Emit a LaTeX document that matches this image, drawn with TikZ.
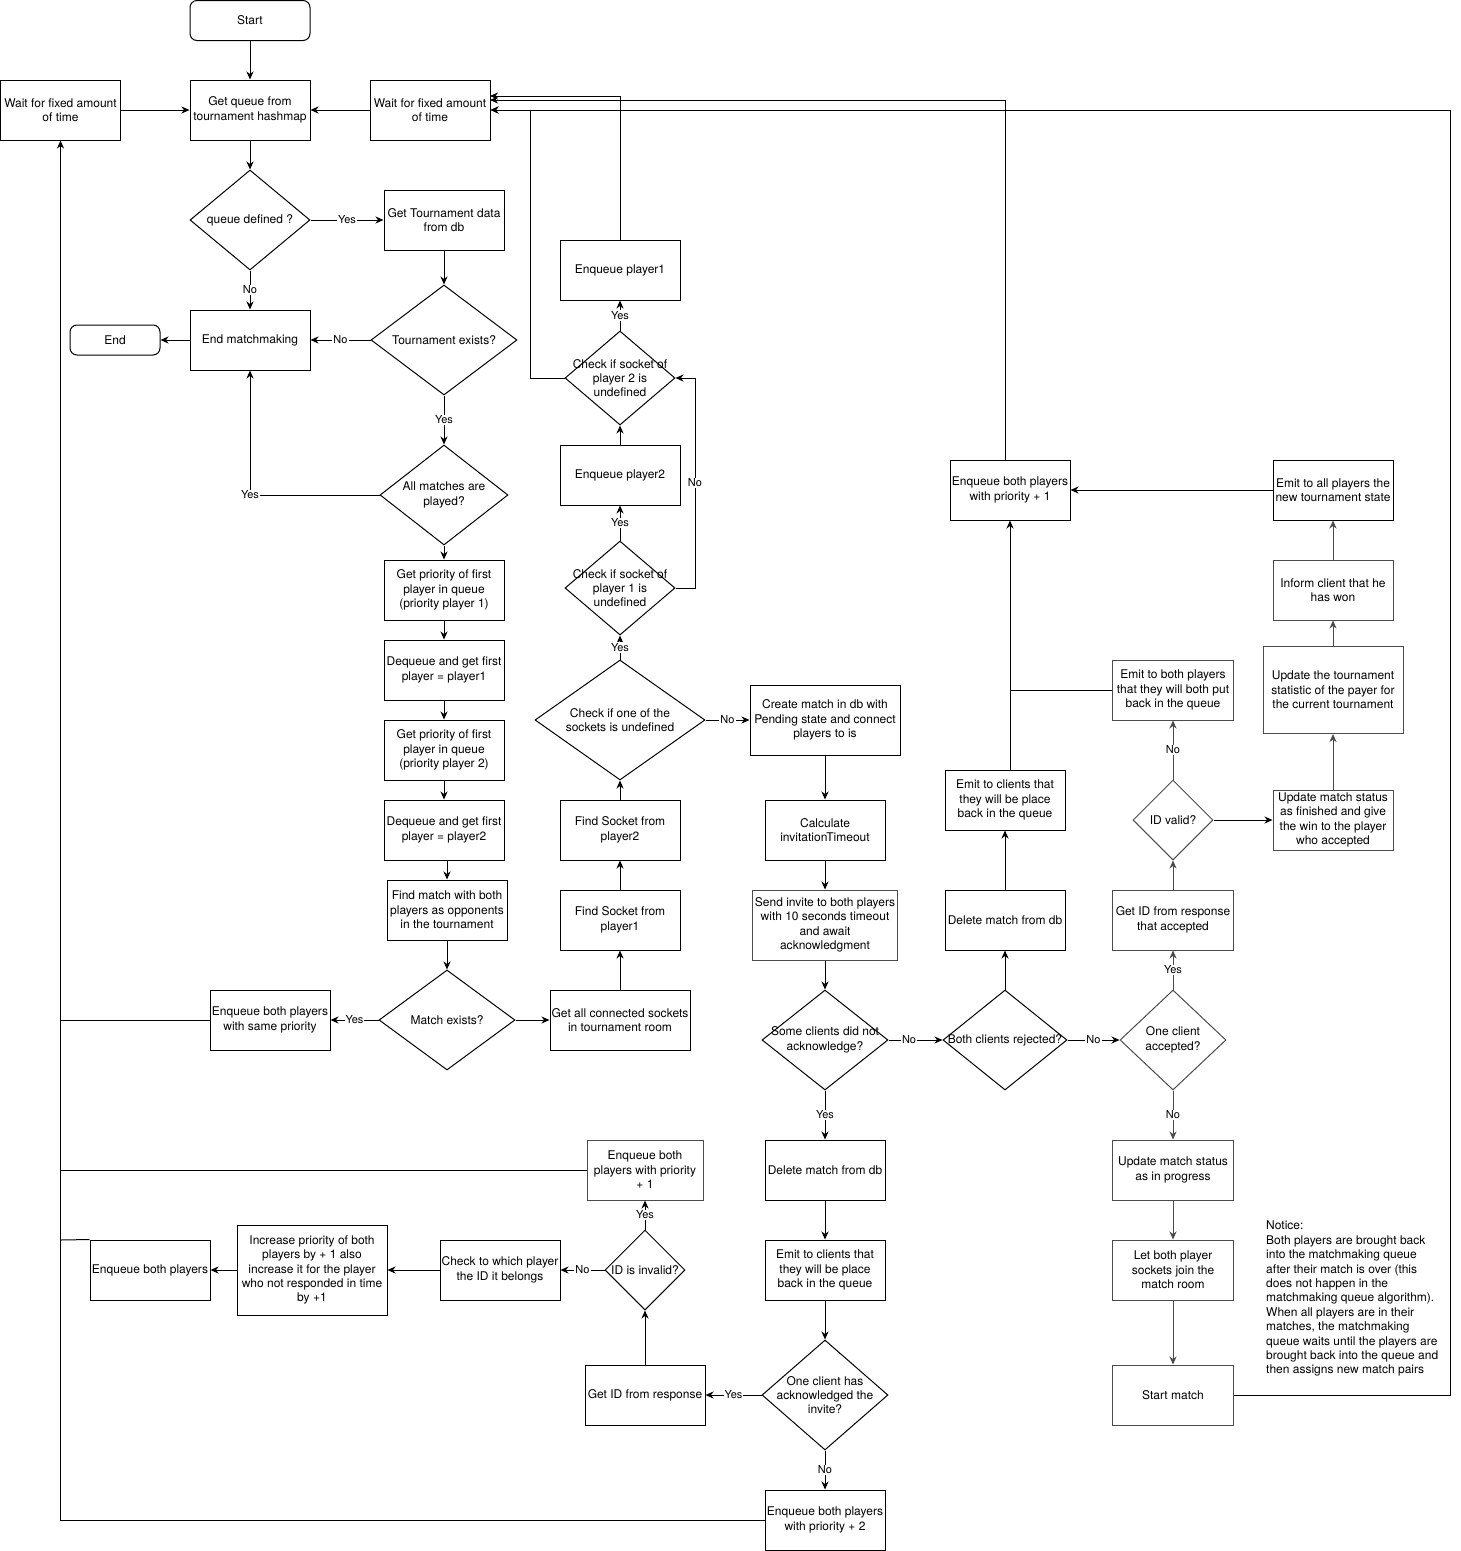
\documentclass[tikz,border=0pt]{standalone}
\usepackage{fontspec}
\setmainfont{TeX Gyre Heros}
\usetikzlibrary{shapes.geometric,arrows.meta}
\newcommand\myfs{\fontsize{12}{14.4}\selectfont}
\newcommand\mylfs{\fontsize{11}{12}\selectfont}
\definecolor{dgray}{RGB}{75,75,75}
\tikzset{
  box/.style={draw, rectangle, align=center, inner sep=1pt, font=\myfs, line width=1pt},
  rbox/.style={box, rounded corners=7pt},
  dia/.style={draw, diamond, inner sep=0pt, line width=1pt},
  dl/.style={align=center, font=\myfs, inner sep=0pt},
  sz/.style 2 args={minimum width=#1pt, minimum height=#2pt},
  arr/.style={-{Stealth[length=8pt,width=7pt,inset=2.5pt]}, line width=1pt},
  ln/.style={line width=1pt},
  lbl/.style={fill=white, font=\mylfs, inner sep=1pt},
  gr/.style={draw=dgray},
}
\begin{document}
\begin{tikzpicture}[x=1pt,y=-1pt]
\useasboundingbox (0,0) rectangle (1460,1551);

% ---- column A
\node[rbox, sz={120}{40}] (start) at (250,20.5) {Start};
\node[box, sz={120}{60}] (getq) at (250,110) {Get queue from\\tournament hashmap};
\node[box, sz={120}{60}] (waitL) at (60.5,110) {Wait for fixed amount\\of time};
\node[box, sz={120}{60}] (waitR) at (430,110) {Wait for fixed amount\\of time};
\node[dia, sz={120}{100}, label={[dl]center:{queue defined ?}}] (qdef) at (250,220) {};
\node[box, sz={120}{60}] (gettd) at (444,220) {Get Tournament data\\from db};
\node[box, sz={120}{60}] (endmm) at (250,340) {End matchmaking};
\node[rbox, sz={90}{30}] (endn) at (115,340) {End};
\node[dia, sz={146}{110}, label={[dl]center:{Tournament exists?}}] (texist) at (444,340) {};
\node[dia, sz={128}{100}, label={[dl]center:{All matches are\\played?}}] (allm) at (444,495) {};
\node[box, sz={120}{60}] (gp1) at (444,590) {Get priority of first\\player in queue\\(priority player 1)};
\node[box, sz={120}{60}] (dq1) at (444,670) {Dequeue and get first\\player = player1};
\node[box, sz={120}{60}] (gp2) at (444,750) {Get priority of first\\player in queue\\(priority player 2)};
\node[box, sz={120}{60}] (dq2) at (444,830) {Dequeue and get first\\player = player2};
\node[box, sz={120}{60}] (fm) at (447,910) {Find match with both\\players as opponents\\in the tournament};
\node[dia, sz={136}{100}, label={[dl]center:{Match exists?}}] (mex) at (447,1020) {};
\node[box, sz={120}{60}] (enqsame) at (270,1020) {Enqueue both players\\with same priority};

% ---- socket column
\node[box, sz={140}{60}] (getall) at (620,1020) {Get all connected sockets\\in tournament room};
\node[box, sz={120}{60}] (fs1) at (620,920) {Find Socket from\\player1};
\node[box, sz={120}{60}] (fs2) at (620,830) {Find Socket from\\player2};
\node[dia, sz={170}{120}, label={[dl]center:{Check if one of the\\sockets is undefined}}] (chk1) at (620,720) {};
\node[dia, sz={110}{94}, label={[dl]center:{Check if socket of\\player 1 is\\undefined}}] (chkp1) at (620,588) {};
\node[box, sz={120}{60}] (enqp2) at (620,475) {Enqueue player2};
\node[dia, sz={110}{94}, label={[dl]center:{Check if socket of\\player 2 is\\undefined}}] (chkp2) at (620,378) {};
\node[box, sz={120}{60}] (enqp1) at (620,270) {Enqueue player1};

% ---- invite column
\node[box, sz={150}{70}] (create) at (825,720) {Create match in db with\\Pending state and connect\\players to is};
\node[box, sz={120}{60}] (calc) at (825,830) {Calculate\\invitationTimeout};
\node[box, gr, sz={145}{70}] (send) at (825,925) {Send invite to both players\\with 10 seconds timeout\\and await\\acknowledgment};
\node[dia, sz={126}{100}, label={[dl]center:{Some clients did not\\acknowledge?}}] (some) at (825,1040) {};
\node[box, sz={120}{60}] (del1) at (825,1170) {Delete match from db};
\node[box, sz={120}{60}] (emit1) at (825,1270) {Emit to clients that\\they will be place\\back in the queue};
\node[dia, sz={126}{110}, label={[dl]center:{One client has\\acknowledged the\\invite?}}] (onehas) at (825,1395) {};
\node[box, sz={120}{60}] (enq2) at (825,1520) {Enqueue both players\\with priority + 2};
\node[box, sz={120}{60}] (getid) at (645,1395) {Get ID from response};
\node[dia, sz={80}{80}, label={[dl]center:{ID is invalid?}}] (idinv) at (645,1270) {};
\node[box, gr, sz={116}{60}] (enq1low) at (645,1170) {Enqueue both\\players with priority\\+ 1};
\node[box, sz={120}{60}] (chkwhich) at (500,1270) {Check to which player\\the ID it belongs};
\node[box, sz={150}{90}] (incr) at (312,1270) {Increase priority of both\\players by + 1 also\\increase it for the player\\who not responded in time\\by +1};
\node[box, sz={120}{60}] (enqboth) at (150,1270) {Enqueue both players};

% ---- right part
\node[dia, sz={124}{100}, label={[dl]center:{Both clients rejected?}}] (bothrej) at (1005,1040) {};
\node[dia, gr, sz={106}{100}, label={[dl]center:{One client\\accepted?}}] (oneacc) at (1173,1040) {};
\node[box, sz={120}{60}] (del2) at (1005,920) {Delete match from db};
\node[box, sz={120}{60}] (emit2) at (1005,800) {Emit to clients that\\they will be place\\back in the queue};
\node[box, sz={120}{60}] (enq1up) at (1010,490) {Enqueue both players\\with priority + 1};
\node[box, gr, sz={121}{60}] (emitboth) at (1173,690) {Emit to both players\\that they will both put\\back in the queue};
\node[box, gr, sz={121}{60}] (getidacc) at (1173,920) {Get ID from response\\that accepted};
\node[dia, gr, sz={80}{80}, label={[dl]center:{ID valid?}}] (idval) at (1173,820) {};
\node[box, gr, sz={120}{60}] (updfin) at (1333,820) {Update match status\\as finished and give\\the win to the player\\who accepted};
\node[box, gr, sz={140}{87}] (updstat) at (1333,690) {Update the tournament\\statistic of the payer for\\the current tournament};
\node[box, gr, sz={120}{60}] (inform) at (1333,590) {Inform client that he\\has won};
\node[box, sz={120}{60}] (emitall) at (1333,490) {Emit to all players the\\new tournament state};
\node[box, gr, sz={121}{60}] (updprog) at (1173,1170) {Update match status\\as in progress};
\node[box, gr, sz={121}{60}] (letboth) at (1173,1270) {Let both player\\sockets join the\\match room};
\node[box, gr, sz={121}{60}] (startm) at (1173,1395) {Start match};

\node[anchor=north west, align=left, font=\myfs, inner sep=0pt] (notice) at (1266,1221)
 {Notice:\\Both players are brought back\\into the matchmaking queue\\after their match is over (this\\does not happen in the\\matchmaking queue algorithm).\\When all players are in their\\matches, the matchmaking\\queue waits until the players are\\brought back into the queue and\\then assigns new match pairs};

% ---- junction coordinates
\coordinate (j1) at (60.5,1020);
\coordinate (j2) at (60.5,1170);
\coordinate (j3) at (60.5,1240);
\coordinate (j4) at (60.5,1520);
\coordinate (c1) at (695,588);
\coordinate (c2) at (530,110);
\coordinate (c3) at (490,96);
\coordinate (c5) at (490,100);
\coordinate (c6) at (1450,110);

% ---- edges
\draw[arr] (start) -- (getq);
\draw[arr] (waitL) -- (getq);
\draw[arr] (waitR) -- (getq);
\draw[arr] (getq) -- (qdef);
\draw[arr] (qdef) -- node[lbl]{Yes} (gettd);
\draw[arr] (qdef) -- node[lbl]{No} (endmm);
\draw[arr] (gettd) -- (texist);
\draw[arr] (texist) -- node[lbl]{No} (endmm);
\draw[arr] (endmm) -- (endn);
\draw[arr] (texist) -- node[lbl]{Yes} (allm);
\draw[arr] (allm.west) -| node[lbl, pos=0.5]{Yes} (endmm.south);
\draw[arr] (allm) -- (gp1);
\draw[arr] (gp1) -- (dq1);
\draw[arr] (dq1) -- (gp2);
\draw[arr] (gp2) -- (dq2);
\draw[arr] (dq2.south -| fm.north) -- (fm.north);
\draw[arr] (fm) -- (mex);
\draw[arr] (mex) -- node[lbl]{Yes} (enqsame);
\draw[ln] (enqsame.west) -- (j1);
\draw[arr] (mex) -- (getall);
\draw[arr] (getall) -- (fs1);
\draw[arr] (fs1) -- (fs2);
\draw[arr] (fs2) -- (chk1);
\draw[arr] (chk1) -- node[lbl]{Yes} (chkp1);
\draw[arr] (chk1) -- node[lbl]{No} (create);
\draw[arr] (chkp1) -- node[lbl]{Yes} (enqp2);
\draw[arr] (chkp1.east) -- (c1) |- node[lbl, pos=0.25]{No} (chkp2.east);
\draw[arr] (enqp2) -- (chkp2);
\draw[arr] (chkp2) -- node[lbl]{Yes} (enqp1);
\draw[arr] (chkp2.west) -| (c2) -- (waitR.east);
\draw[arr] (enqp1.north) |- (c3);
\draw[arr] (create) -- (calc);
\draw[arr] (calc) -- (send);
\draw[arr] (send) -- (some);
\draw[arr] (some) -- node[lbl]{Yes} (del1);
\draw[arr] (some) -- node[lbl, pos=0.38]{No} (bothrej);
\draw[arr] (del1) -- (emit1);
\draw[arr] (emit1) -- (onehas);
\draw[arr] (onehas) -- node[lbl]{Yes} (getid);
\draw[arr] (onehas) -- node[lbl]{No} (enq2);
\draw[arr] (enq2.west) -- (j4) -- (waitL.south);
\draw[arr] (getid) -- (idinv);
\draw[arr] (idinv) -- node[lbl]{Yes} (enq1low);
\draw[arr] (idinv) -- node[lbl]{No} (chkwhich);
\draw[arr] (chkwhich) -- (incr);
\draw[arr] (incr) -- (enqboth);
\draw[ln] (enqboth.north west) -- (j3);
\draw[ln] (enq1low.west) -- (j2);
\draw[arr] (bothrej) -- (del2);
\draw[arr] (del2) -- (emit2);
\draw[arr] (emit2.north -| enq1up.south) -- (enq1up.south);
\draw[ln] (emitboth.west) -- (emitboth.west -| enq1up.south);
\draw[arr] (enq1up.north -| emit2.north) |- (c5);
\draw[arr] (bothrej) -- node[lbl]{No} (oneacc);
\draw[arr, dgray] (oneacc) -- node[lbl, text=black]{Yes} (getidacc);
\draw[arr, dgray] (oneacc) -- node[lbl, text=black]{No} (updprog);
\draw[arr, dgray] (getidacc) -- (idval);
\draw[arr, dgray] (idval) -- node[lbl, text=black]{No} (emitboth);
\draw[arr] (idval) -- (updfin);
\draw[arr, dgray] (updfin) -- (updstat);
\draw[arr, dgray] (updstat) -- (inform);
\draw[arr, dgray] (inform) -- (emitall);
\draw[arr] (emitall) -- (enq1up);
\draw[arr, dgray] (updprog) -- (letboth);
\draw[arr, dgray] (letboth) -- (startm);
\draw[arr] (startm.east) -| (c6) -- (waitR.east);
\end{tikzpicture}
\end{document}
